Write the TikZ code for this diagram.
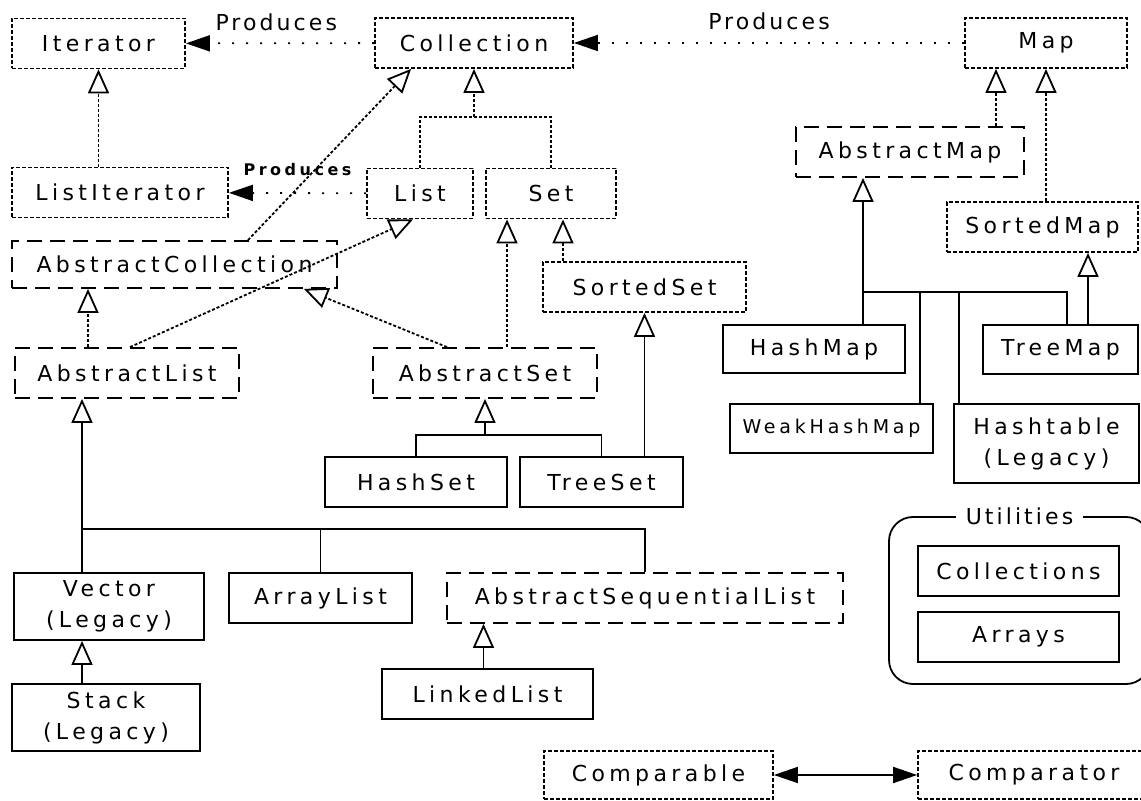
\documentclass[tikz,border=0pt]{standalone}
\usepackage{fontspec}
\usetikzlibrary{arrows.meta,positioning}
\newfontfamily\boxfont[LetterSpace=20]{DejaVu Sans}
\newfontfamily\lblfont[LetterSpace=14]{DejaVu Sans}
\newfontfamily\tinyfont[LetterSpace=22]{DejaVu Sans}

\begin{document}
\begin{tikzpicture}[
    x=.5pt, y=-.5pt, line width=.9pt,
    cls/.style={draw, inner sep=0pt, align=center, minimum height=25pt,
      font=\boxfont\fontsize{11}{15.5}\selectfont},
    iface/.style={cls, dash pattern=on 2pt off 1pt},
    abstr/.style={cls, dash pattern=on 7.5pt off 4pt},
    inh/.style={-{Triangle[open, length=12pt, width=10.5pt]}},
    impl/.style={inh, dash pattern=on 1.5pt off 1pt},
    prodtip/.tip={Triangle[length=12pt, width=8pt]},
    produces/.style={-prodtip, dash pattern=on 1pt off 6pt},
    lbl/.style={font=\lblfont\fontsize{11}{13}\selectfont, inner sep=0pt}]
  \useasboundingbox (0,0) rectangle (1141,801);

  % interfaces
  \node[iface, minimum width=86.5pt] (iter) at (98.5,43.5) {Iterator};
  \node[iface, minimum width=99pt] (coll) at (474,43) {Collection};
  \node[iface, minimum width=81pt] (map) at (1046,43) {Map};
  \node[iface, minimum width=108pt] (liter) at (120,192.5) {ListIterator};
  \node[iface, minimum width=53pt] (list) at (420,193.5) {List};
  \node[iface, minimum width=65pt] (set) at (551,193.5) {Set};
  \node[iface, minimum width=101.5pt] (sset) at (644.5,287) {SortedSet};
  \node[iface, minimum width=95.5pt] (smap) at (1042.5,227) {SortedMap};
  \node[iface, minimum width=114.5pt, minimum height=24pt] (cmpble) at (658.5,775) {Comparable};
  \node[iface, minimum width=116pt, minimum height=24pt] (cmptor) at (1034,775) {Comparator};

  % abstract classes
  \node[abstr, minimum width=162.5pt, minimum height=23.5pt] (acoll) at (174.5,264.5) {AbstractCollection};
  \node[abstr, minimum width=112pt] (alist) at (127,373) {AbstractList};
  \node[abstr, minimum width=112pt] (aset) at (485,373) {AbstractSet};
  \node[abstr, minimum width=198pt] (aseq) at (645,598) {AbstractSequentialList};
  \node[abstr, minimum width=114pt] (amap) at (910,152) {AbstractMap};

  % concrete classes
  \node[cls, minimum width=91pt] (hset) at (416,482) {HashSet};
  \node[cls, minimum width=81.5pt] (tset) at (601.5,482) {TreeSet};
  \node[cls, minimum width=95pt, minimum height=33.5pt] (vec) at (109,606.5) {Vector\\(Legacy)};
  \node[cls, minimum width=91.5pt] (alst) at (320.5,598) {ArrayList};
  \node[cls, minimum width=105.5pt] (llist) at (487.5,694) {LinkedList};
  \node[cls, minimum width=94pt, minimum height=33.5pt] (stack) at (106,717.5) {Stack\\(Legacy)};
  \node[cls, minimum width=91pt, minimum height=24pt] (hmap) at (814,349) {HashMap};
  \node[cls, minimum width=77.5pt, minimum height=24.5pt] (tmap) at (1060.5,349.5) {TreeMap};
  \node[cls, minimum width=101.5pt, minimum height=24.5pt, font=\boxfont\fontsize{9.5}{12}\selectfont] (whmap) at (831.5,428.5) {WeakHashMap};
  \node[cls, minimum width=92.5pt, minimum height=39.5pt] (htab) at (1046.5,443.5) {Hashtable\\(Legacy)};

  % utilities
  \node[draw, rounded corners=12pt, minimum width=130.5pt, minimum height=83.5pt] (util) at (1019.5,600.5) {};
  \node[lbl, fill=white, inner xsep=5pt, inner ysep=1pt] (utilname) at (util.north) {Utilities};
  \node[cls, minimum width=100.5pt] (colls) at (1018.5,571) {Collections};
  \node[cls, minimum width=100.5pt] (arrs) at (1018.5,637) {Arrays};

  % produces
  \draw[produces] (coll) -- node[lbl, above=6pt, pos=.52] (prod1) {Produces} (iter);
  \draw[produces] (map) -- node[lbl, above=6pt, pos=.5] (prod2) {Produces} (coll);
  \draw[produces] (list) -- node[above=8pt, inner sep=0pt, font=\tinyfont\bfseries\fontsize{8}{10}\selectfont] (prod3) {Produces} (liter);

  % interface inheritance
  \draw[impl] (iter.south |- liter.north) -- (iter.south);
  \coordinate (collj) at (474,117);
  \draw[impl, -] (list.north) |- (collj) -| (set.north);
  \draw[impl] (collj) -- (coll.south);
  \draw[impl] ([xshift=36.75pt]acoll.north) -- ([xshift=18.5pt]coll.south west);
  \draw[impl] ([xshift=-19.5pt]alist.north) -- ([xshift=-19.5pt]alist.north |- acoll.south);
  \draw[impl] ([xshift=1.5pt]alist.north) -- ([xshift=-3.5pt]list.south);
  \draw[impl] ([xshift=-19pt]aset.north) -- ([xshift=-17pt]acoll.south east);
  \draw[impl] ([xshift=11pt]aset.north) -- ([xshift=11pt]aset.north |- set.south);
  \draw[impl] ([xshift=6pt]set.south |- sset.north) -- ([xshift=6pt]set.south);
  \draw[impl] ([xshift=-25pt]map.south |- amap.north) -- ([xshift=-25pt]map.south);
  \draw[impl] (map.south |- smap.north) -- (map.south);

  % class inheritance
  \coordinate (asetj) at (485,435);
  \draw (hset.north) |- (asetj) -| (tset.north);
  \draw[inh] (asetj) -- (aset.south);
  \draw[inh] (sset.south |- tset.north) -- (sset.south);

  \coordinate (alistj) at (82,529);
  \draw (vec.north -| alistj) -- (alistj) -| (aseq.north);
  \draw (alistj -| alst.north) -- (alst.north);
  \draw[inh] (alistj) -- (alistj |- alist.south);
  \draw[inh] ([xshift=-13.5pt]vec.south |- stack.north) -- ([xshift=-13.5pt]vec.south);
  \draw[inh] ([xshift=-2pt]llist.north) -- ([xshift=-2pt]llist.north |- aseq.south);

  \coordinate (amapj) at (863,292);
  \coordinate (amapr) at (1067,292);
  \draw (amapj |- hmap.north) -- (amapj) -- (amapr) -- (amapr |- tmap.north);
  \draw ([xshift=44.25pt]whmap.north) -- ([xshift=44.25pt]whmap.north |- amapj);
  \draw ([xshift=-43.75pt]htab.north) -- ([xshift=-43.75pt]htab.north |- amapj);
  \draw[inh] (amapj) -- (amapj |- amap.south);
  \draw[inh] ([xshift=22.75pt]smap.south |- tmap.north) -- ([xshift=22.75pt]smap.south);

  \draw[prodtip-prodtip] (cmpble) -- (cmptor);
\end{tikzpicture}
\end{document}
